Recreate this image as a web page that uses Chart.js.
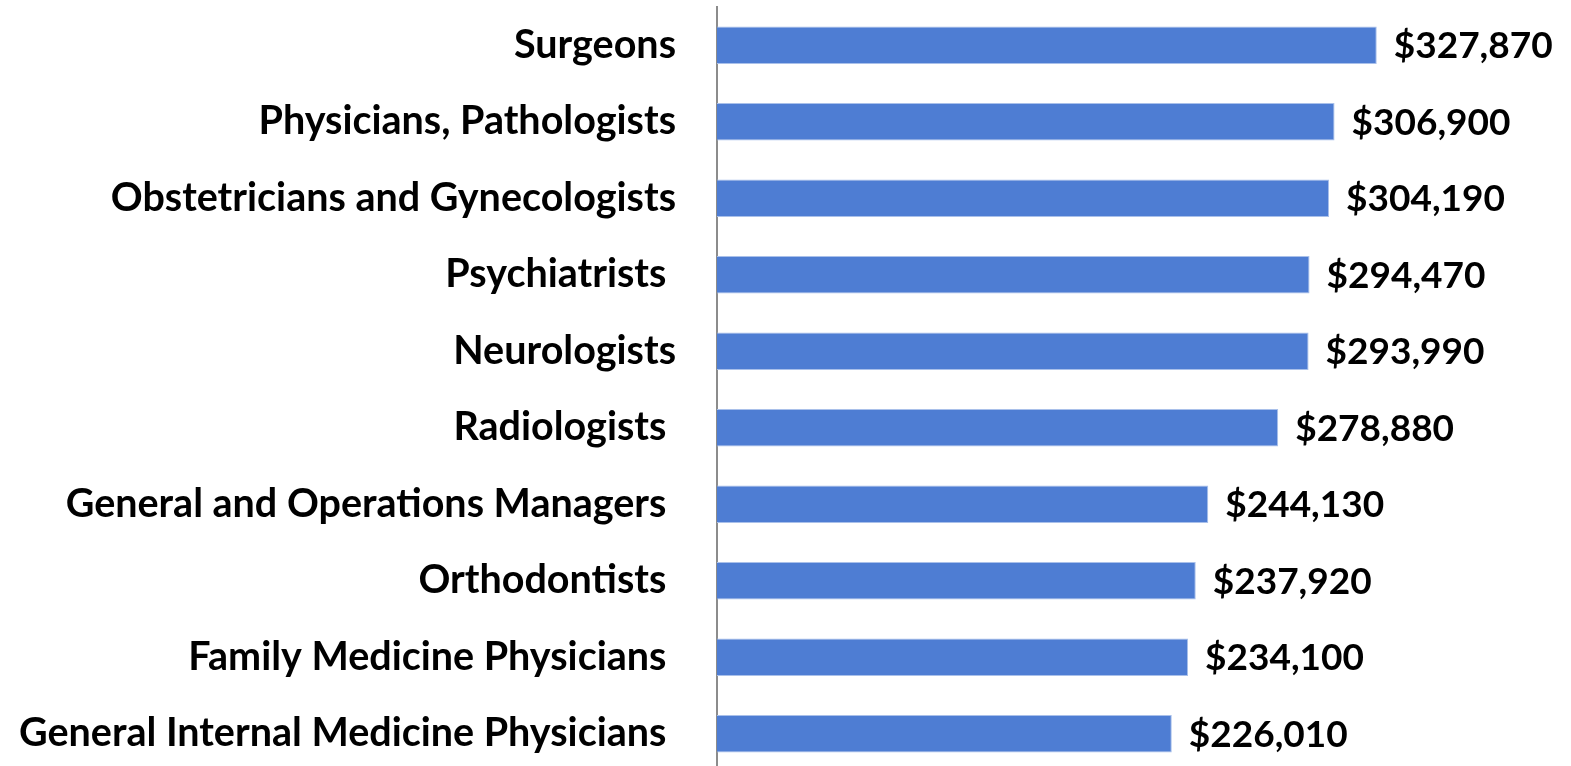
<!DOCTYPE html>
<html>
<head>
<meta charset="utf-8">
<script src="https://cdn.jsdelivr.net/npm/chart.js@4.4.1/dist/chart.umd.min.js"></script>
<style>
  html, body { margin: 0; padding: 0; background: #ffffff; overflow: hidden; }
  #wrap { position: relative; width: 1571px; height: 772px; }
</style>
</head>
<body>
<div id="wrap"><canvas id="c" width="1571" height="772"></canvas></div>
<script>
const categories = [
  "Surgeons",
  "Physicians, Pathologists",
  "Obstetricians and Gynecologists",
  "Psychiatrists ",
  "Neurologists",
  "Radiologists ",
  "General and Operations Managers ",
  "Orthodontists ",
  "Family Medicine Physicians ",
  "General Internal Medicine Physicians "
];
const salaries = [327870, 306900, 304190, 294470, 293990, 278880, 244130, 237920, 234100, 226010];
const valueLabels = ["$327,870", "$306,900", "$304,190", "$294,470", "$293,990", "$278,880", "$244,130", "$237,920", "$234,100", "$226,010"];

const FONT_FAMILY = "Lato, 'Open Sans', sans-serif";

const endLabels = {
  id: 'endLabels',
  afterDatasetsDraw(chart) {
    const ctx = chart.ctx;
    const meta = chart.getDatasetMeta(0);
    ctx.save();
    ctx.font = "bold 37px " + FONT_FAMILY;
    ctx.fillStyle = "#000000";
    ctx.textAlign = "left";
    ctx.textBaseline = "middle";
    meta.data.forEach((bar, i) => {
      ctx.fillText(valueLabels[i], bar.x + 17, bar.y + 1);
    });
    ctx.restore();
  }
};

new Chart(document.getElementById('c'), {
  type: 'bar',
  data: {
    labels: categories,
    datasets: [{
      data: salaries,
      backgroundColor: '#4e7dd3',
      borderColor: '#a9c0ea',
      borderWidth: 1,
      categoryPercentage: 1.0,
      barPercentage: 0.49
    }]
  },
  options: {
    indexAxis: 'y',
    responsive: false,
    animation: false,
    layout: { padding: { left: 0, right: 0, top: 7, bottom: 0 } },
    plugins: { legend: { display: false }, tooltip: { enabled: false } },
    scales: {
      x: {
        min: 0,
        max: 424400,
        display: false
      },
      y: {
        grid: { display: false, drawTicks: false },
        border: { display: true, color: '#8c8c8c', width: 2 },
        ticks: {
          color: '#000000',
          padding: 41,
          font: { family: FONT_FAMILY, size: 39.5, weight: 'bold' }
        },
        afterFit(scale) {
          scale.width = 717;
          scale.paddingTop = 0;
          scale.paddingBottom = 0;
        }
      }
    }
  },
  plugins: [endLabels]
});
</script>
</body>
</html>
